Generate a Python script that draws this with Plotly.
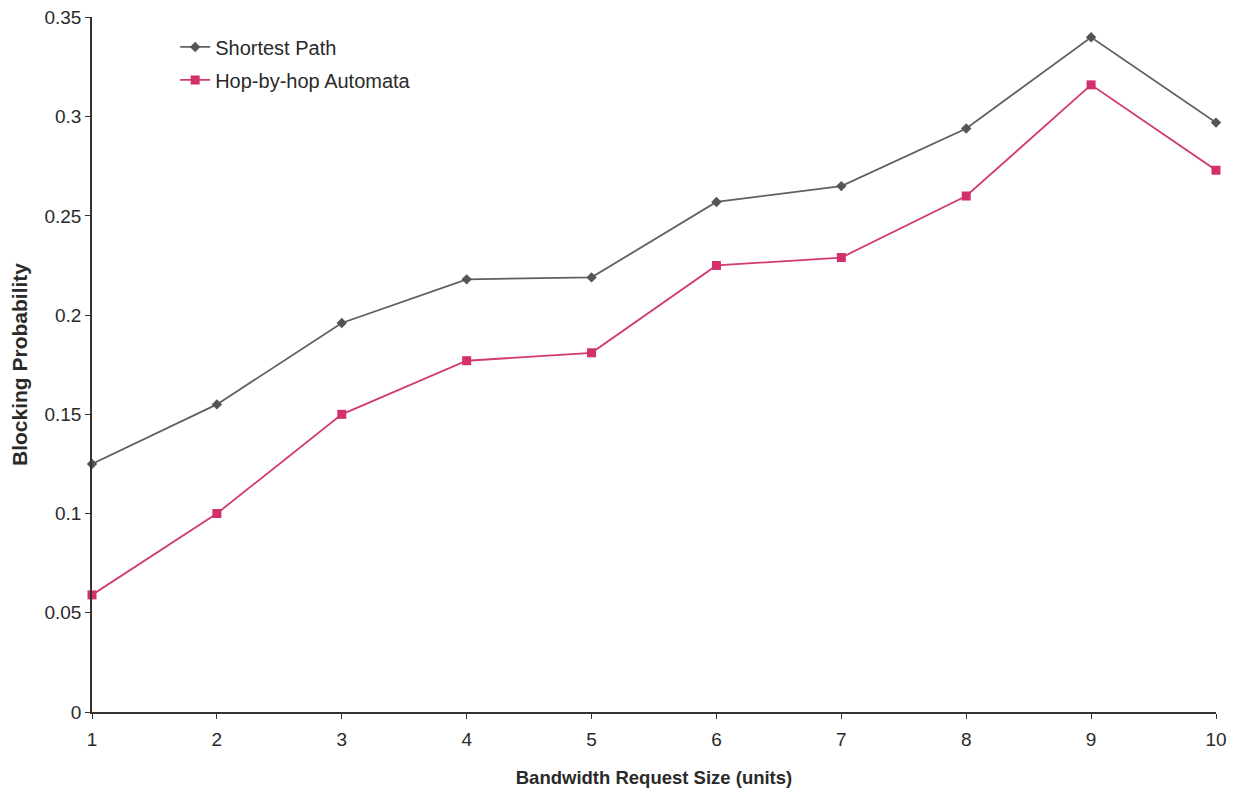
import plotly.graph_objects as go

sizes = [1, 2, 3, 4, 5, 6, 7, 8, 9, 10]
shortest_path = [0.125, 0.155, 0.196, 0.218, 0.219, 0.257, 0.265, 0.294, 0.340, 0.297]
hop_by_hop = [0.059, 0.100, 0.150, 0.177, 0.181, 0.225, 0.229, 0.260, 0.316, 0.273]
y_ticks = [0, 0.05, 0.1, 0.15, 0.2, 0.25, 0.3, 0.35]
y_tick_labels = ["0", "0.05", "0.1", "0.15", "0.2", "0.25", "0.3", "0.35"]

fig = go.Figure()
fig.add_trace(go.Scatter(
    x=sizes, y=shortest_path, name="Shortest Path", mode="lines+markers",
    legendgroup="a",
    line=dict(color="#606060", width=1.8),
    marker=dict(symbol="diamond", size=8, color="#555555"),
    cliponaxis=False,
))
fig.add_trace(go.Scatter(
    x=sizes, y=hop_by_hop, name="Hop-by-hop Automata", mode="lines+markers",
    legendgroup="b",
    line=dict(color="#d23a72", width=1.8),
    marker=dict(symbol="square", size=9, color="#d22f6c"),
    cliponaxis=False,
))

font_family = "Liberation Sans, Arial, sans-serif"
fig.update_layout(
    width=1226, height=780,
    margin=dict(l=84, r=18, t=9, b=76),
    paper_bgcolor="white", plot_bgcolor="white",
    font=dict(family=font_family, size=19, color="#2a2a2a"),
    showlegend=True,
    legend=dict(x=0.074, y=0.985, xanchor="left", yanchor="top",
                bgcolor="rgba(0,0,0,0)", font=dict(size=20, color="#2a2a2a"),
                tracegroupgap=4, itemwidth=30),
    xaxis=dict(
        range=[1, 10], tickvals=sizes, ticks="outside", ticklen=5,
        tickcolor="#333333", showline=True, linecolor="#333333", linewidth=1.5,
        showgrid=False, zeroline=False, ticklabelstandoff=4, automargin=False,
        ticklabeloverflow="allow",
        title=dict(text="<b>Bandwidth Request Size (units)</b>", font=dict(size=18.5), standoff=24),
    ),
    yaxis=dict(
        range=[0, 0.3502], tickvals=y_ticks, ticktext=y_tick_labels,
        ticks="outside", ticklen=5, automargin=False, ticklabeloverflow="allow",
        tickcolor="#333333", showline=True, linecolor="#333333", linewidth=1.5,
        showgrid=False, zeroline=False,
        title=dict(text="<b>Blocking Probability</b>", font=dict(size=21), standoff=12),
    ),
)

fig.write_html("out.html")
